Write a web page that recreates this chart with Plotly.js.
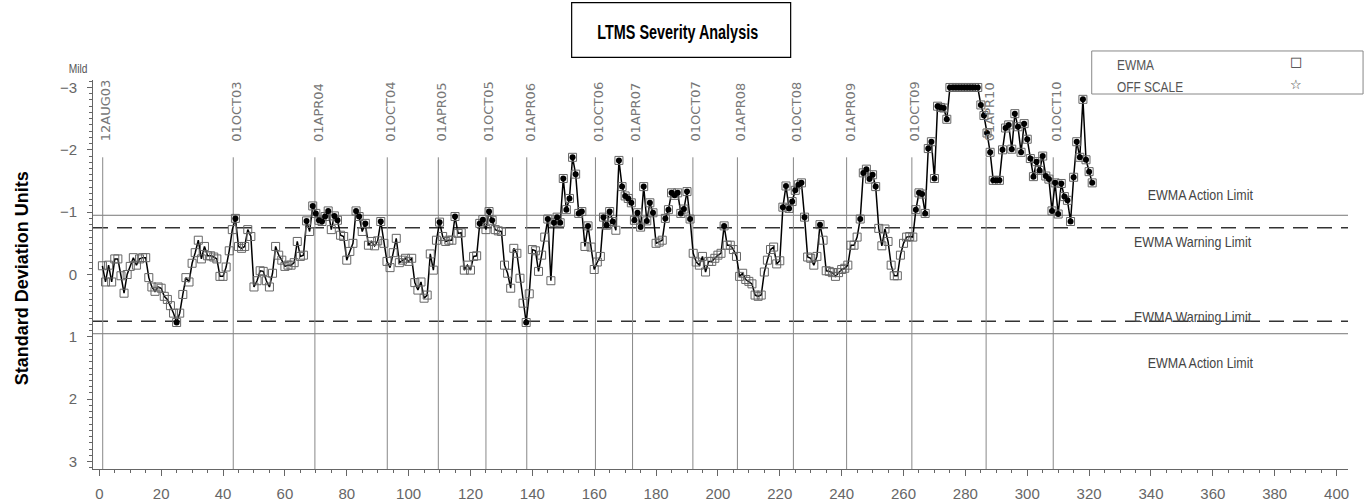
<!DOCTYPE html>
<html><head><meta charset="utf-8">
<script src="https://cdn.plot.ly/plotly-3.0.1.min.js"></script>
<style>html,body{margin:0;padding:0;background:#fff;} #chart{width:1364px;height:503px;}</style>
</head><body><div id="chart"></div>
<script>
// EWMA values (standard deviation units), test sequence 1..321
const ewma = [
 -0.14, 0.12,-0.15, 0.12,-0.25,-0.25, 0.02, 0.30, 0.00,-0.13,
 -0.27,-0.15,-0.25,-0.27,-0.27, 0.05, 0.20, 0.27, 0.20, 0.22,
  0.35, 0.40, 0.50, 0.62, 0.77, 0.62, 0.32, 0.05, 0.12,-0.18,
 -0.35,-0.55,-0.25,-0.45,-0.30,-0.30,-0.28,-0.25, 0.03, 0.03,
 -0.12,-0.38,-0.72,-0.90,-0.45,-0.42,-0.45,-0.72,-0.61, 0.20,
  0.10,-0.06,-0.05, 0.10, 0.20,-0.02,-0.45,-0.31,-0.23,-0.13,
 -0.15,-0.15,-0.19,-0.53,-0.29,-0.31,-0.86,-0.69,-1.10,-0.98,
 -0.87,-0.85,-0.93,-1.02,-0.72,-0.94,-0.87,-0.63,-0.61,-0.23,
 -0.37,-0.50,-1.02,-0.93,-0.69,-0.82,-0.47,-0.53,-0.46,-0.54,
 -0.85,-0.50,-0.21,-0.11,-0.35,-0.58,-0.19,-0.23,-0.26,-0.21,
 -0.26, 0.13, 0.25, 0.12, 0.38, 0.33,-0.33,-0.07,-0.55,-0.84,
 -0.61,-0.53,-0.55,-0.55,-0.93,-0.66,-0.67,-0.07,-0.15,-0.07,
 -0.29,-0.30,-0.82,-0.88,-0.72,-1.01,-0.87,-0.72,-0.70,-0.69,
 -0.15,-0.02, 0.22,-0.42,-0.34, 0.06, 0.46, 0.77, 0.31,-0.40,
 -0.38,-0.05,-0.31,-0.60,-0.89, 0.10,-0.83,-0.92,-0.83,-1.54,
 -1.04,-1.22,-1.88,-1.61,-0.98,-1.01,-0.45,-0.78,-0.44,-0.08,
 -0.20,-0.29,-0.92,-0.79,-1.01,-0.85,-0.71,-1.83,-1.41,-1.26,
 -1.22,-1.15,-0.87,-0.99,-0.76,-1.41,-0.86,-1.15,-0.99,-0.50,
 -0.52,-0.55,-0.90,-1.04,-1.31,-1.27,-1.31,-0.98,-1.05,-1.33,
 -0.89,-0.34,-0.20,-0.15,-0.29,-0.04,-0.21,-0.21,-0.26,-0.31,
 -0.34,-0.78,-0.47,-0.47,-0.40,-0.29, 0.03,-0.02, 0.08, 0.11,
  0.15, 0.33, 0.35, 0.33,-0.04,-0.23,-0.40,-0.44,-0.17,-0.22,
 -1.08,-1.42,-1.06,-1.17,-1.35,-1.44,-1.47,-0.92,-0.28,-0.26,
 -0.15,-0.29,-0.80,-0.55,-0.06,-0.05,-0.03, 0.03,-0.03,-0.08,
 -0.10,-0.15,-0.47,-0.47,-0.60,-0.89,-1.63,-1.69,-1.53,-1.60,
 -1.41,-0.74,-0.46,-0.73,-0.53,-0.15, 0.02, 0.02,-0.31,-0.50,
 -0.60,-0.61,-0.60,-1.04,-1.31,-1.29,-0.98,-2.02,-2.13,-1.54,
 -2.70,-2.68,-2.67,-2.49,-3.00,-3.00,-3.00,-3.00,-3.00,-3.00,
 -3.00,-3.00,-3.00,-3.00,-2.72,-2.55,-2.27,-1.96,-1.51,-1.51,
 -1.51,-2.00,-2.35,-2.40,-2.01,-2.58,-2.37,-1.96,-2.42,-2.17,
 -1.86,-1.57,-1.81,-1.67,-1.90,-1.58,-1.53,-1.02,-1.47,-0.97,
 -1.46,-1.25,-1.19,-0.85,-1.56,-2.13,-1.88,-2.81,-1.84,-1.65,
 -1.47
];
const dateLabels = ["12AUG03","01OCT03","01APR04","01OCT04","01APR05","01OCT05","01APR06","01OCT06",
                    "01APR07","01OCT07","01APR08","01OCT08","01APR09","01OCT09","01APR10","01OCT10"];
const datePositions = [1.1, 43.3, 69.7, 93.1, 109.6, 125.0, 138.2, 160.4,
                       172.4, 191.9, 206.3, 224.4, 241.6, 262.7, 286.7, 308.4];
const actionLimit = 0.95;
const warningLimit = 0.75;
const limitLabels = ["EWMA Action Limit","EWMA Warning Limit","EWMA Warning Limit","EWMA Action Limit"];
const legendLabels = ["EWMA","OFF SCALE"];
const legendSymbols = ["\u25A1","\u2606"];

const xs = ewma.map((v,i)=>i+1);
const hitX = [], hitY = [];
ewma.forEach((v,i)=>{ if (Math.abs(v) > warningLimit) { hitX.push(xs[i]); hitY.push(v); } });

const sans = 'Liberation Sans, Arial, sans-serif';
const gray = '#666';

const traces = [
  {x: xs, y: ewma, type: 'scatter', mode: 'lines+markers',
   line: {color: '#000', width: 1.5},
   marker: {symbol: 'square-open', size: 8, color: '#666', line: {width: 1, color: '#666'}}},
  {x: hitX, y: hitY, type: 'scatter', mode: 'markers',
   marker: {symbol: 'circle', size: 6, color: '#000'}}
];

const shapes = [];
datePositions.forEach(p => shapes.push({type:'line', xref:'x', yref:'y', x0:p, x1:p, y0:-1.88, y1:3.12,
  line:{color:'#888', width:1}, layer:'below'}));
[-actionLimit, actionLimit].forEach(v => shapes.push({type:'line', xref:'paper', yref:'y', x0:0, x1:1, y0:v, y1:v,
  line:{color:'#777', width:1}, layer:'below'}));
[-warningLimit, warningLimit].forEach(v => shapes.push({type:'line', xref:'paper', yref:'y', x0:0, x1:1, y0:v, y1:v,
  line:{color:'#333', width:1.5, dash:'15px,9px'}, layer:'below'}));
// title box
shapes.push({type:'rect', xref:'paper', yref:'paper', x0:0.3814, x1:0.5559, y0:1.0584, y1:1.1987,
  line:{color:'#000', width:1.2}, fillcolor:'rgba(0,0,0,0)'});
// legend box
shapes.push({type:'rect', xref:'paper', yref:'paper', x0:0.7958, x1:1.012, y0:0.964, y1:1.0746,
  line:{color:'#888', width:1}, fillcolor:'rgba(0,0,0,0)'});

const annotations = [];
const condense = [];   // horizontal glyph compression per annotation (narrow plotter font look)
function addAnn(a, f) { annotations.push(a); condense.push(f || 0); }

dateLabels.forEach((t,i) => addAnn({xref:'x', yref:'y', x:datePositions[i], y:-2.1, xshift:3,
  text:t, textangle:-90, showarrow:false, xanchor:'center', yanchor:'bottom',
  font:{family:'DejaVu Sans', size:13, color:'#777'}}));
const limY = [-1.276, -0.527, 0.677, 1.416];
const limX = [356.1, 353.6, 353.6, 356.1];
limitLabels.forEach((t,i) => addAnn({xref:'x', yref:'y', x:limX[i], y:limY[i], text:t,
  xanchor:'center', yanchor:'middle', showarrow:false, font:{family:sans, size:15, color:'#444'}}, 0.83));
addAnn({xref:'paper', yref:'paper', x:0.4661, y:1.1234, xanchor:'center', yanchor:'middle',
  text:'LTMS Severity Analysis', showarrow:false,
  font:{family:sans, size:20, color:'#000', weight:'bold'}}, 0.72);
addAnn({xref:'paper', yref:'paper', x:-0.012, y:1.028, xanchor:'center', yanchor:'middle',
  text:'Mild', showarrow:false, font:{family:sans, size:12, color:'#555'}}, 0.85);
addAnn({xref:'paper', yref:'paper', x:-0.0566, y:0.49, xanchor:'center', yanchor:'middle',
  text:'Standard Deviation Units', textangle:-90,
  showarrow:false, font:{family:sans, size:18, color:'#000', weight:'bold'}});
legendLabels.forEach((t,i) => addAnn({xref:'paper', yref:'paper', x:0.8175, y:[1.0386,0.982][i], xshift:-4,
  xanchor:'left', yanchor:'middle', align:'left', text:t, showarrow:false,
  font:{family:sans, size:14, color:'#555'}}, 0.85));
legendSymbols.forEach((t,i) => addAnn({xref:'paper', yref:'paper', x:0.9586, y:[1.0463,0.9897][i],
  xanchor:'center', yanchor:'middle', text:t, showarrow:false, font:{family:'DejaVu Sans', size:13, color:'#333'}}));

const layout = {
  width: 1364, height: 503,
  margin: {l:93, r:16, t:80, b:34},
  paper_bgcolor:'#fff', plot_bgcolor:'#fff',
  showlegend:false, hovermode:false,
  xaxis: {range:[-2.04, 403.7], tick0:0, dtick:20, showgrid:false, zeroline:false,
    showline:true, linecolor:gray, linewidth:1, ticks:'outside', ticklen:6, tickcolor:gray,
    ticklabelstandoff:5,
    minor:{dtick:5, ticks:'outside', ticklen:3, tickcolor:gray, showgrid:false},
    tickfont:{family:sans, size:15, color:gray}},
  yaxis: {range:[3.12, -3.12], tick0:0, dtick:1, showgrid:false, zeroline:false,
    showline:true, linecolor:gray, linewidth:1, ticks:'outside', ticklen:5, tickcolor:gray,
    ticklabelstandoff:7,
    minor:{dtick:0.1, ticks:'outside', ticklen:3, tickcolor:gray, showgrid:false},
    tickfont:{family:sans, size:15, color:gray}},
  shapes: shapes,
  annotations: annotations
};
Plotly.newPlot('chart', traces, layout, {staticPlot:true, displayModeBar:false}).then(gd => {
  gd.querySelectorAll('g.annotation').forEach(g => {
    const k = +g.getAttribute('data-index');
    const f = condense[k];
    if (!f) return;
    const t = g.querySelector('text.annotation-text');
    if (!t) return;
    const w = t.getComputedTextLength();
    t.setAttribute('textLength', (w * f).toFixed(1));
    t.setAttribute('lengthAdjust', 'spacingAndGlyphs');
  });
});
</script>
</body></html>
